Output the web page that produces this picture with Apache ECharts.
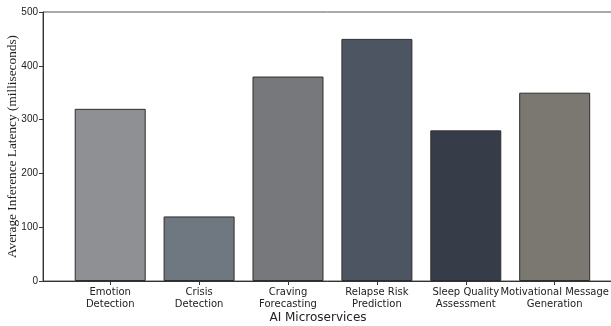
<!DOCTYPE html>
<html>
<head>
<meta charset="utf-8">
<script src="https://cdn.jsdelivr.net/npm/echarts@6/dist/echarts.min.js"></script>
<style>
  html, body { margin: 0; padding: 0; background: #fff; }
  #chart { width: 611px; height: 326px; }
</style>
</head>
<body>
<div id="chart"></div>
<script>
// categories and values
var categories = [
  "Emotion\nDetection",
  "Crisis\nDetection",
  "Craving\nForecasting",
  "Relapse Risk\nPrediction",
  "Sleep Quality\nAssessment",
  "Motivational Message\nGeneration"
];
var latency = [320, 120, 380, 450, 280, 350];
var barColors = ["#8e9093", "#6f7880", "#76787c", "#4d5563", "#373d48", "#7b7872"];
var yTicks = [0, 100, 200, 300, 400, 500];

var positions = categories.map(function (c, i) { return i; });

var myChart = echarts.init(document.getElementById("chart"));
var option = {
  animation: false,
  grid: {
    left: 43,
    right: -2,
    top: 12,
    bottom: 45,
    outerBoundsMode: "none",
    containLabel: false,
    show: true,
    borderColor: "#555",
    borderWidth: 1
  },
  xAxis: {
    type: "value",
    min: -0.756,
    max: 5.656,
    splitLine: { show: false },
    axisLine: { show: true, onZero: false, lineStyle: { color: "#333" } },
    axisTick: {
      show: true,
      length: 4,
      customValues: positions,
      lineStyle: { color: "#333" }
    },
    axisLabel: {
      customValues: positions,
      formatter: function (v) {
        return categories[Math.round(v)];
      },
      hideOverlap: false,
      showMaxLabel: true,
      color: "#222",
      fontFamily: "DejaVu Sans",
      fontSize: 10,
      lineHeight: 12,
      margin: 5
    },
    name: "AI Microservices",
    nameLocation: "middle",
    nameGap: 31,
    nameMoveOverlap: false,
    nameTextStyle: {
      color: "#222",
      fontFamily: "DejaVu Sans",
      fontSize: 12,
      padding: [0, 20, 0, 0]
    }
  },
  yAxis: {
    type: "value",
    min: yTicks[0],
    max: yTicks[yTicks.length - 1],
    interval: 100,
    splitLine: { show: false },
    axisLine: { show: true, onZero: false, lineStyle: { color: "#333" } },
    axisTick: { show: true, length: 4, lineStyle: { color: "#333" } },
    axisLabel: {
      color: "#222",
      fontFamily: "Liberation Sans",
      fontSize: 10,
      margin: 5
    },
    name: "Average Inference Latency (milliseconds)",
    nameLocation: "middle",
    nameGap: 24,
    nameMoveOverlap: false,
    nameTextStyle: {
      color: "#222",
      fontFamily: "Liberation Serif",
      fontSize: 13.3
    }
  },
  series: [
    {
      type: "bar",
      barWidth: 71,
      data: latency.map(function (v, i) {
        return {
          value: [positions[i], v],
          itemStyle: {
            color: barColors[i],
            borderColor: "#2e2e2e",
            borderWidth: 1
          }
        };
      })
    }
  ]
};
myChart.setOption(option);
</script>
</body>
</html>
